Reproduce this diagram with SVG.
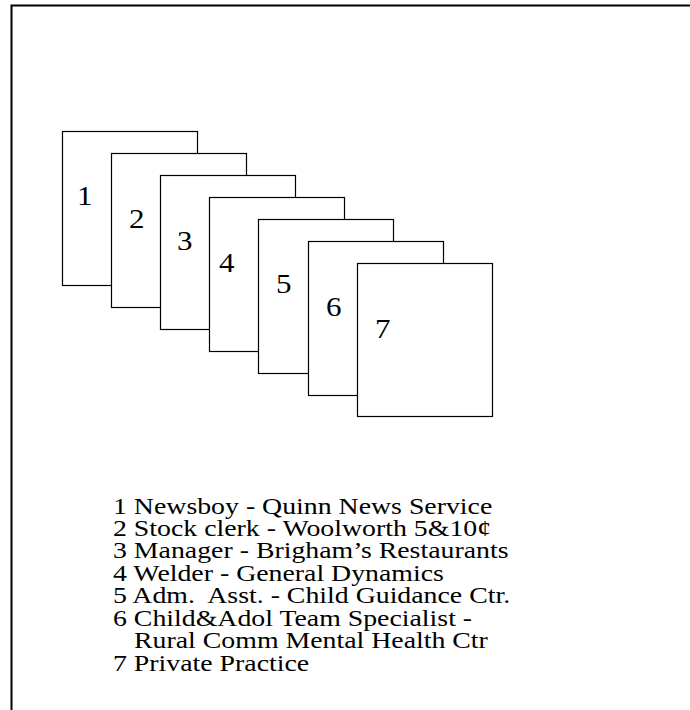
<svg xmlns="http://www.w3.org/2000/svg" width="690" height="710" viewBox="0 0 690 710">
<style>
.card{fill:#fff;stroke:#000;stroke-width:1.2}
.num{font-family:"Liberation Serif","Times New Roman",serif;font-size:27px;fill:#000}
.leg{font-family:"Liberation Serif","Times New Roman",serif;font-size:23px;fill:#000;white-space:pre}
.frame{fill:none;stroke:#000;stroke-width:2}
</style>
<rect x="0" y="0" width="690" height="710" fill="#fff"/>
<path class="frame" d="M11.5 710 V5.5 H690"/>
<g id="card1"><rect class="card" x="62.5" y="131.5" width="135" height="154"/><text class="num" transform="translate(77 205) scale(1.15 1)">1</text></g>
<g id="card2"><rect class="card" x="111.5" y="153.5" width="135" height="154"/><text class="num" transform="translate(129 228) scale(1.15 1)">2</text></g>
<g id="card3"><rect class="card" x="160.5" y="175.5" width="135" height="154"/><text class="num" transform="translate(177 250) scale(1.15 1)">3</text></g>
<g id="card4"><rect class="card" x="209.5" y="197.5" width="135" height="154"/><text class="num" transform="translate(219 272) scale(1.15 1)">4</text></g>
<g id="card5"><rect class="card" x="258.5" y="219.5" width="135" height="154"/><text class="num" transform="translate(276 293) scale(1.15 1)">5</text></g>
<g id="card6"><rect class="card" x="308.5" y="241.5" width="135" height="154"/><text class="num" transform="translate(326 316) scale(1.15 1)">6</text></g>
<g id="card7"><rect class="card" x="357.5" y="263.5" width="135" height="153"/><text class="num" transform="translate(375 338) scale(1.15 1)">7</text></g>
<g id="legend" transform="translate(113 0) scale(1.21 1)">
<text class="leg" x="0" y="514">1 Newsboy - Quinn News Service</text>
<text class="leg" x="0" y="536.5">2 Stock clerk - Woolworth 5&amp;10¢</text>
<text class="leg" x="0" y="558.5">3 Manager - Brigham’s Restaurants</text>
<text class="leg" x="0" y="581">4 Welder - General Dynamics</text>
<text class="leg" x="0" y="603.5" xml:space="preserve">5 Adm.  Asst. - Child Guidance Ctr.</text>
<text class="leg" x="0" y="626">6 Child&amp;Adol Team Specialist -</text>
<text class="leg" x="17.4" y="648.5">Rural Comm Mental Health Ctr</text>
<text class="leg" x="0" y="671">7 Private Practice</text>
</g>
</svg>
